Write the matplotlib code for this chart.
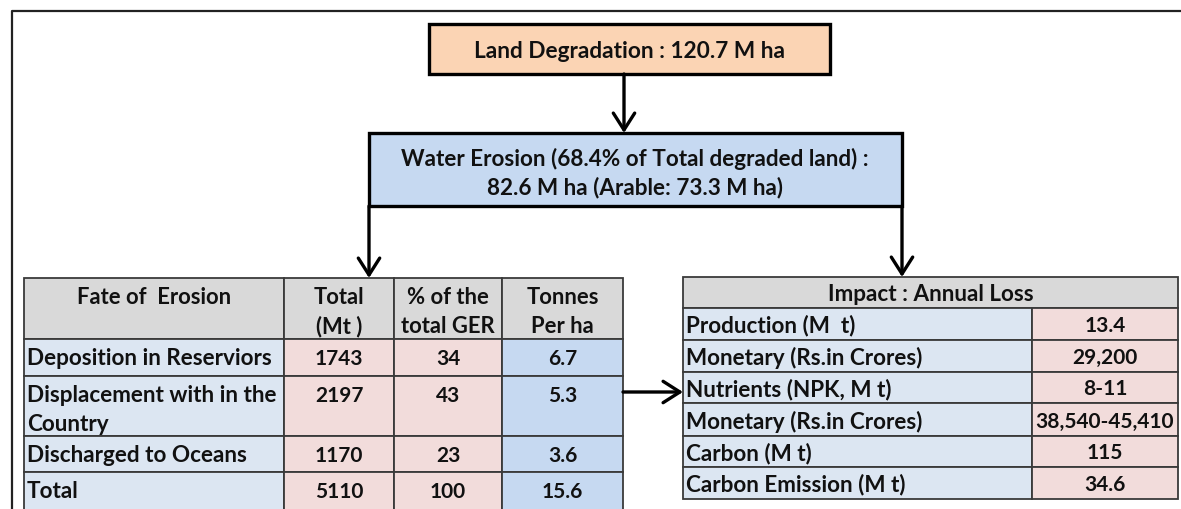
"""
Land degradation flow diagram: boxes, arrows and two summary tables.
"""

import matplotlib.pyplot as plt
from matplotlib.patches import Rectangle, FancyArrowPatch

# text content
top_label = "Land Degradation : 120.7 M ha"
water_label = ["Water Erosion (68.4% of Total degraded land) :",
               "82.6 M ha (Arable: 73.3 M ha)"]

fate_header = [["Fate of  Erosion"], ["Total", "(Mt )"], ["% of the", "total GER"], ["Tonnes", "Per ha"]]
fate_rows = [["Deposition in Reserviors"],
             ["Displacement with in the", "Country"],
             ["Discharged to Oceans"],
             ["Total"]]
fate_total = ["1743", "2197", "1170", "5110"]
fate_pct = ["34", "43", "23", "100"]
fate_tph = ["6.7", "5.3", "3.6", "15.6"]

impact_header = "Impact : Annual Loss"
impact_items = ["Production (M  t)", "Monetary (Rs.in Crores)", "Nutrients (NPK, M t)",
                "Monetary (Rs.in Crores)", "Carbon (M t)", "Carbon Emission (M t)"]
impact_values = ["13.4", "29,200", "8-11", "38,540-45,410", "115", "34.6"]

# colours
PEACH = "#FBD4B4"
BLUE = "#C6D9F1"
LIGHT_BLUE = "#DCE6F2"
PINK = "#F2DCDB"
GREY = "#D9D9D9"
GRID = "#3a3a3a"

FONT = "Lato"
LABEL = 16.2
NUM = 15

fig = plt.figure(figsize=(11.81, 5.10), dpi=100)
ax = fig.add_axes([0, 0, 1, 1])
ax.set_xlim(0, 1181)
ax.set_ylim(510, 0)
ax.axis("off")


def box(x0, y0, x1, y1, fc, lw=1.3, ec=GRID, z=1):
    ax.add_patch(Rectangle((x0, y0), x1 - x0, y1 - y0, facecolor=fc,
                           edgecolor=ec, linewidth=lw, zorder=z))


def txt(x, y, s, size=LABEL, ha="center"):
    ax.text(x, y, s, ha=ha, va="center", fontsize=size, fontweight="bold",
            family=FONT, color="#111111", zorder=5)


def arrow(p0, p1):
    ax.add_patch(FancyArrowPatch(p0, p1, arrowstyle="->,head_length=0.55,head_width=0.35",
                                 mutation_scale=22, lw=2.4, color="black",
                                 shrinkA=0, shrinkB=0, zorder=4))


# outer frame
ax.plot([12, 12, 1181], [512, 12, 12], color="#222222", lw=1.6, zorder=2)

# top boxes
box(429, 25, 830, 75, PEACH, lw=2.4, ec="black", z=3)
txt(629, 51, top_label, size=16.3)
box(369, 134, 902, 207, BLUE, lw=2.4, ec="black", z=3)
txt(635, 159, water_label[0], size=16.2)
txt(635, 188, water_label[1], size=16.2)

arrow((624, 75), (624, 134))
arrow((369, 207), (369, 279))
arrow((902, 207), (902, 278))
arrow((623, 393), (683, 393))

# left table
col_x = [24, 284, 394, 502, 623]
row_y = [279, 340, 377, 437, 473, 515]
for c in range(4):
    box(col_x[c], row_y[0], col_x[c + 1], row_y[1], GREY)
    lines = fate_header[c]
    for k, line in enumerate(lines):
        txt((col_x[c] + col_x[c + 1]) / 2, 298 + 29 * k, line, size=15.8)

col_fill = [LIGHT_BLUE, PINK, PINK, BLUE]
col_vals = [None, fate_total, fate_pct, fate_tph]
for r in range(4):
    top = row_y[r + 1]
    for c in range(4):
        box(col_x[c], top, col_x[c + 1], row_y[r + 2], col_fill[c])
    for k, line in enumerate(fate_rows[r]):
        txt(col_x[0] + 3, top + 19 + 29 * k, line, ha="left")
    for c in range(1, 4):
        txt((col_x[c] + col_x[c + 1]) / 2, top + 19, col_vals[c][r], size=NUM)

# right table
rx = [683, 1032, 1178]
ry = [278, 309, 341, 373, 404, 437, 468, 500]
box(rx[0], ry[0], rx[2], ry[1], GREY)
txt((rx[0] + rx[2]) / 2, (ry[0] + ry[1]) / 2 + 1, impact_header)
for r in range(len(impact_items)):
    box(rx[0], ry[r + 1], rx[1], ry[r + 2], LIGHT_BLUE)
    box(rx[1], ry[r + 1], rx[2], ry[r + 2], PINK)
    mid = (ry[r + 1] + ry[r + 2]) / 2 + 1
    txt(rx[0] + 3, mid, impact_items[r], ha="left")
    txt((rx[1] + rx[2]) / 2, mid, impact_values[r], size=NUM)

fig.savefig("out.png", dpi=100)
